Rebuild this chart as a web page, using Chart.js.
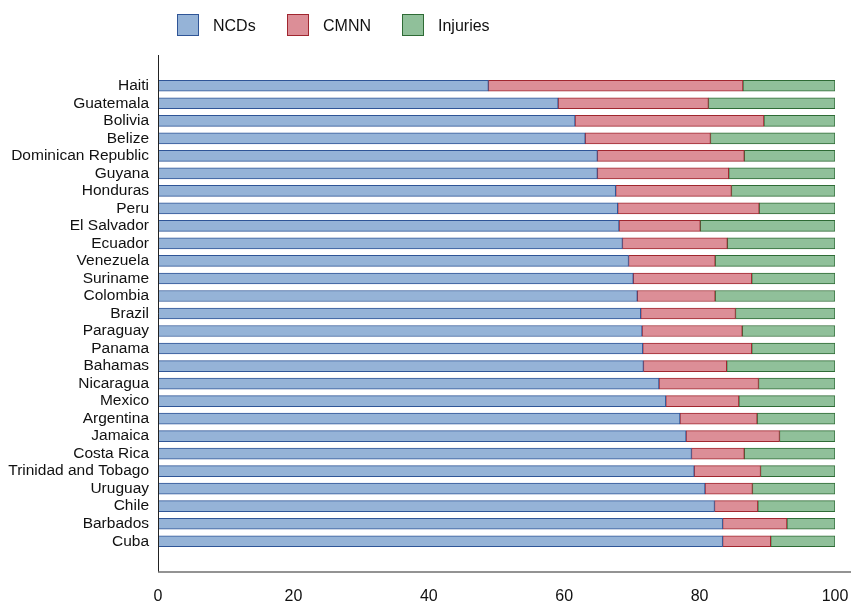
<!DOCTYPE html>
<html>
<head>
<meta charset="utf-8">
<script src="https://cdn.jsdelivr.net/npm/chart.js@4/dist/chart.umd.min.js"></script>
<style>
  body { margin: 0; background: #fff; }
  #wrap { position: relative; width: 851px; height: 606px; }
  #legend { position: absolute; left: 0; top: 0; font-family: "Liberation Sans", Arial, sans-serif; font-size: 16px; color: #111; }
  .item { position: absolute; top: 14px; height: 22px; line-height: 23px; white-space: nowrap; }
  .box { position: absolute; left: 0; top: 0; width: 20px; height: 20px; border: 1px solid; }
  .lbl { position: absolute; left: 36px; top: 0; }
</style>
</head>
<body>
<div id="wrap">
  <canvas id="chart" width="851" height="606"></canvas>
  <div id="legend"></div>
</div>
<script>
// ===============================
// DONNÉES
// ===============================

const countries = ["Haiti", "Guatemala", "Bolivia", "Belize", "Dominican Republic", "Guyana", "Honduras",
    "Peru", "El Salvador", "Ecuador", "Venezuela", "Suriname", "Colombia", "Brazil", "Paraguay", "Panama",
    "Bahamas", "Nicaragua", "Mexico", "Argentina", "Jamaica", "Costa Rica", "Trinidad and Tobago",
    "Uruguay", "Chile", "Barbados", "Cuba"];

const ncds = [48.8, 59.1, 61.6, 63.1, 64.9, 64.9, 67.6, 67.9, 68.1, 68.6, 69.5, 70.2, 70.8, 71.3,
    71.5, 71.6, 71.7, 74.0, 75.0, 77.1, 78.0, 78.8, 79.2, 80.8, 82.2, 83.4, 83.4];

const cmnn = [37.6, 22.2, 27.9, 18.5, 21.7, 19.4, 17.1, 20.9, 12.0, 15.5, 12.8, 17.5, 11.5, 14.0,
    14.8, 16.1, 12.3, 14.7, 10.8, 11.4, 13.8, 7.8, 9.8, 7.0, 6.4, 9.5, 7.1];

const injuries = [13.6, 18.7, 10.5, 18.4, 13.4, 15.7, 15.3, 11.2, 19.9, 15.9, 17.7, 12.3, 17.7, 14.7,
    13.7, 12.3, 16.0, 11.3, 14.2, 11.5, 8.2, 13.4, 11.0, 12.2, 11.4, 7.1, 9.5];

const xTicks = [0, 20, 40, 60, 80, 100];

const seriesNames = ["NCDs", "CMNN", "Injuries"];
const fills = ["#95b3d7", "#dc8e97", "#90c09a"];
const borders = ["#2f5597", "#a0262f", "#2e6b35"];

const FONT = "'Liberation Sans', Arial, sans-serif";

// ===============================
// LÉGENDE
// ===============================

const legendX = [177, 287, 402];
const legend = document.getElementById("legend");
seriesNames.forEach((name, i) => {
    const item = document.createElement("div");
    item.className = "item";
    item.style.left = legendX[i] + "px";
    item.innerHTML = '<span class="box" style="background:' + fills[i] + ';border-color:' + borders[i] +
        '"></span><span class="lbl">' + name + '</span>';
    legend.appendChild(item);
});

// ===============================
// AXES (lignes)
// ===============================

const axisLines = {
    id: "axisLines",
    afterDraw(chart) {
        const c = chart.ctx;
        const area = chart.chartArea;
        c.save();
        c.strokeStyle = "#222";
        c.lineWidth = 1;
        c.beginPath();
        c.moveTo(area.left + 0.5, 55);
        c.lineTo(area.left + 0.5, 572);
        c.stroke();
        c.strokeStyle = "#6f6f6f";
        c.lineWidth = 1.5;
        c.beginPath();
        c.moveTo(area.left, 572);
        c.lineTo(chart.width, 572);
        c.stroke();
        c.restore();
    }
};

// ===============================
// GRAPHIQUE
// ===============================

const values = [ncds, cmnn, injuries];
const ctx = document.getElementById("chart").getContext("2d");
new Chart(ctx, {
    type: "bar",
    data: {
        labels: countries,
        datasets: seriesNames.map((name, i) => ({
            label: name,
            data: values[i],
            backgroundColor: fills[i],
            borderColor: borders[i],
            borderWidth: 1,
            borderSkipped: false,
            barThickness: 11
        }))
    },
    options: {
        indexAxis: "y",
        responsive: false,
        animation: false,
        layout: { padding: { top: 77, right: 16, left: 0, bottom: 0 } },
        plugins: {
            legend: { display: false },
            tooltip: { enabled: false }
        },
        scales: {
            x: {
                stacked: true,
                min: 0,
                max: 100,
                afterBuildTicks: axis => { axis.ticks = xTicks.map(v => ({ value: v })); },
                afterFit: axis => { axis.height = 56; },
                // tick marks hidden (grid off) but their length pushes the labels down
                grid: { display: false, drawTicks: true, tickLength: 37 },
                border: { display: false },
                ticks: { color: "#111", padding: 0, maxRotation: 0, font: { family: FONT, size: 16 } }
            },
            y: {
                stacked: true,
                afterFit: axis => { axis.width = 158; },
                grid: { display: false, drawTicks: false },
                border: { display: false },
                ticks: { color: "#111", padding: 9, autoSkip: false, font: { family: FONT, size: 15.5, lineHeight: 1 } }
            }
        }
    },
    plugins: [axisLines]
});
</script>
</body>
</html>
